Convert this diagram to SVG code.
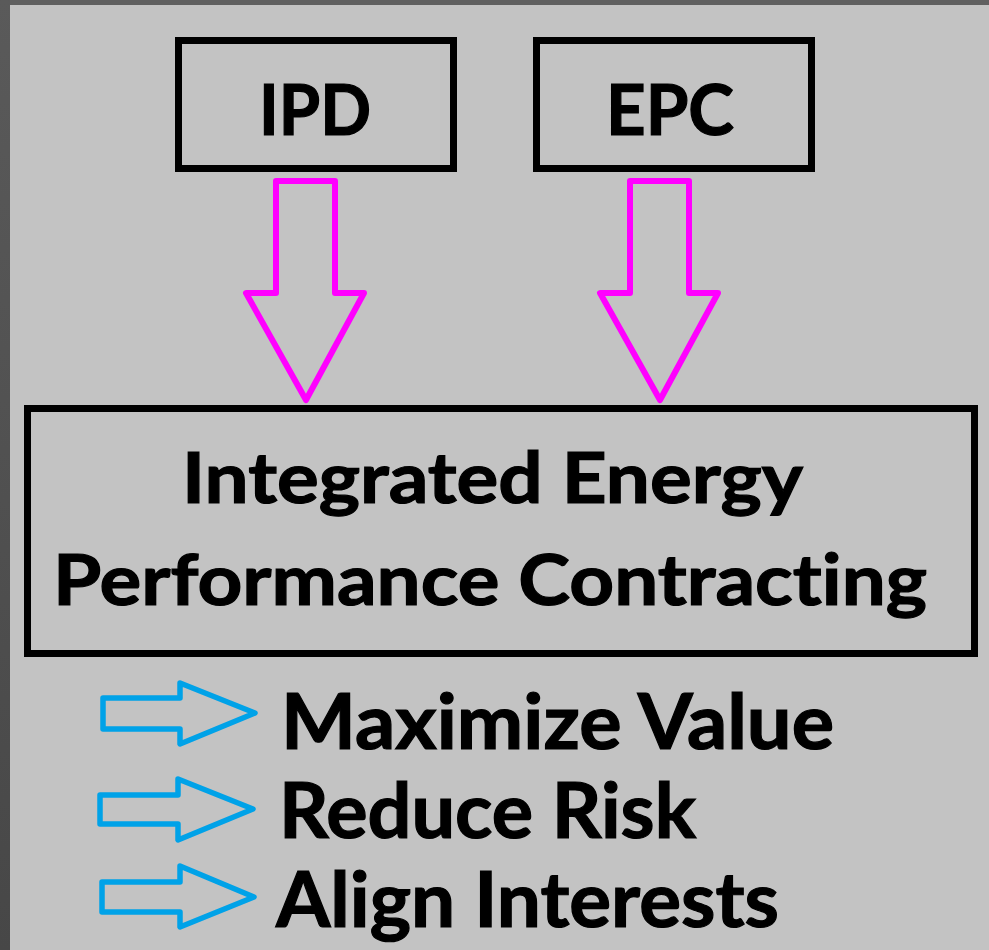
<svg xmlns="http://www.w3.org/2000/svg" width="989" height="950" viewBox="0 0 989 950">
<defs>
<linearGradient id="lb" x1="0" y1="0" x2="0" y2="1">
<stop offset="0" stop-color="#5a5a5a"/>
<stop offset="1" stop-color="#474747"/>
</linearGradient>
</defs>
<style>
.box{fill:none;stroke:#000;stroke-width:7}
.t{font-family:Lato,"Liberation Sans",sans-serif;font-weight:bold;fill:#000;stroke:#000;stroke-width:1.2;font-variant-ligatures:none}
.pink{fill:none;stroke:#ff00ff;stroke-width:6;stroke-linejoin:round}
.blue{fill:none;stroke:#00a2e8;stroke-width:5.5;stroke-linejoin:round}
</style>
<rect x="0" y="0" width="989" height="950" fill="#c3c3c3"/>
<rect x="0" y="0" width="989" height="5" fill="#606060"/>
<rect x="0" y="0" width="10" height="950" fill="url(#lb)"/>
<g id="ipd">
<rect class="box" x="178.5" y="40.5" width="275" height="128"/>
<text class="t" x="259" y="135" font-size="71" textLength="112" lengthAdjust="spacingAndGlyphs">IPD</text>
</g>
<g id="epc">
<rect class="box" x="536.5" y="40.5" width="275" height="128"/>
<text class="t" x="606" y="135" font-size="71" textLength="128" lengthAdjust="spacingAndGlyphs">EPC</text>
</g>
<g id="iepc">
<rect class="box" x="27.5" y="408.5" width="947" height="245"/>
<text class="t" x="182" y="503" font-size="71" textLength="621" lengthAdjust="spacingAndGlyphs">Integrated Energy</text>
<text class="t" x="53" y="605" font-size="71" textLength="874" lengthAdjust="spacingAndGlyphs">Performance Contrac<tspan font-size="70.9">t</tspan>ing</text>
</g>
<g id="connectors">
<path class="pink" d="M276,181 H335 V293 H364 L306,400 L246,293 H276 Z"/>
<path class="pink" d="M630,181 H689 V293 H718 L660,400 L600,293 H630 Z"/>
<path class="blue" d="M103,698 H180 V683 L255,713 L180,744 V729 H103 Z"/>
<path class="blue" d="M100,795 H178 V779 L253,809 L178,840 V824 H100 Z"/>
<path class="blue" d="M102,882 H180 V866 L254,897 L180,927 V912 H102 Z"/>
</g>
<g id="benefits">
<text class="t" x="281" y="749" font-size="76" textLength="553" lengthAdjust="spacingAndGlyphs">Maximize Value</text>
<text class="t" x="279" y="838" font-size="76" textLength="417" lengthAdjust="spacingAndGlyphs">Reduce Risk</text>
<text class="t" x="276" y="927" font-size="76" textLength="503" lengthAdjust="spacingAndGlyphs">Align Interests</text>
</g>
</svg>
